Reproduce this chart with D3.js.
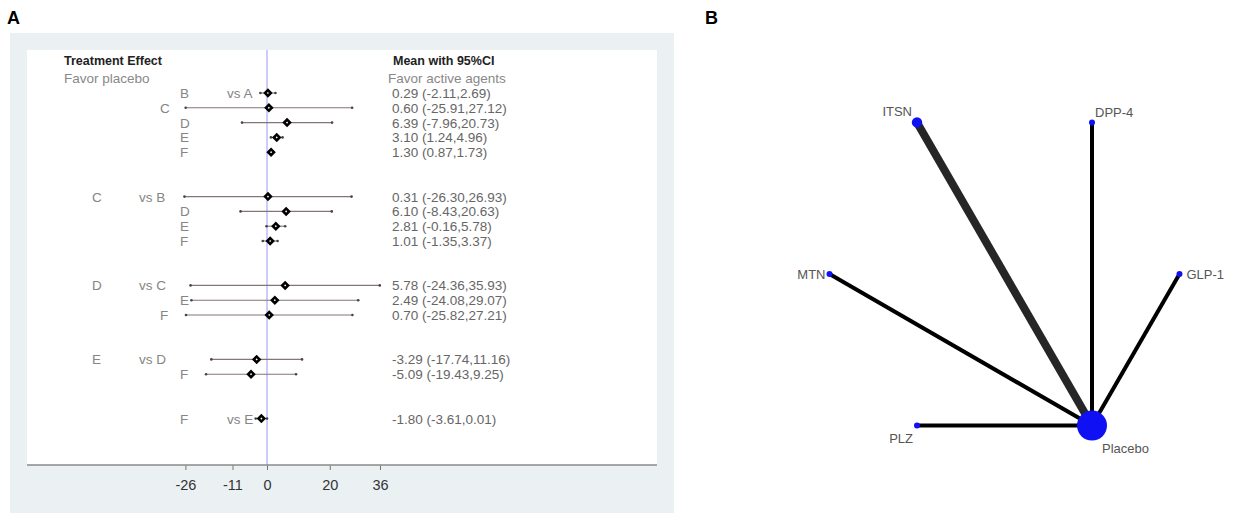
<!DOCTYPE html>
<html>
<head>
<meta charset="utf-8">
<script src="https://cdn.jsdelivr.net/npm/d3@7"></script>
<style>
  body { margin: 0; background: #fff; }
  svg { display: block; font-family: "Liberation Sans", Arial, sans-serif; }
</style>
</head>
<body>
<div id="vis"></div>
<script>
// Panel A data (forest plot)
const TREATMENTS = ["B", "C", "D", "E", "F", "C", "D", "E", "F", "D", "E", "F", "E", "F", "F"];
const COMPARATORS = ["A", "A", "A", "A", "A", "B", "B", "B", "B", "C", "C", "C", "D", "D", "E"];
const MEANS = [0.29, 0.60, 6.39, 3.10, 1.30, 0.31, 6.10, 2.81, 1.01, 5.78, 2.49, 0.70, -3.29, -5.09, -1.80];
const LOWER = [-2.11, -25.91, -7.96, 1.24, 0.87, -26.30, -8.43, -0.16, -1.35, -24.36, -24.08, -25.82, -17.74, -19.43, -3.61];
const UPPER = [2.69, 27.12, 20.73, 4.96, 1.73, 26.93, 20.63, 5.78, 3.37, 35.93, 29.07, 27.21, 11.16, 9.25, 0.01];
const X_TICKS = [-26, -11, 0, 20, 36];

// Panel B data (network)
const NODES = ["Placebo", "PLZ", "MTN", "ITSN", "DPP-4", "GLP-1"];
const NODE_WEIGHT = [25, 1, 1, 3, 1, 1];
const EDGE_FROM = ["Placebo", "Placebo", "Placebo", "Placebo", "Placebo"];
const EDGE_TO = ["PLZ", "MTN", "ITSN", "DPP-4", "GLP-1"];
const EDGE_STUDIES = [1, 1, 2, 1, 1];

// Layout
const FRAME_WIDTH = 1248;
const FRAME_HEIGHT = 525;
const BOX = { x: 10, y: 33, w: 664, h: 480 };
const INNER = { x: 27, y: 50, w: 630, h: 415 };
// column of the treatment letter in each row (0 = group head, 1 = odd indent, 2 = normal)
const LETTER_COL = [2, 1, 2, 2, 2, 0, 2, 2, 2, 0, 2, 1, 0, 2, 2];
const COL_X = [92, 160, 180];

const FRAME = d3.select("#vis")
    .append("svg")
    .attr("width", FRAME_WIDTH)
    .attr("height", FRAME_HEIGHT);

// panel letters
FRAME.append("text").attr("x", 7).attr("y", 24).text("A")
    .attr("font-size", "18px").attr("font-weight", "bold");
FRAME.append("text").attr("x", 705).attr("y", 24).text("B")
    .attr("font-size", "18px").attr("font-weight", "bold");

function build_panelA() {
    const g = FRAME.append("g");

    g.append("rect").attr("x", BOX.x).attr("y", BOX.y)
        .attr("width", BOX.w).attr("height", BOX.h).attr("fill", "#ebf1f3");
    g.append("rect").attr("x", INNER.x).attr("y", INNER.y)
        .attr("width", INNER.w).attr("height", INNER.h).attr("fill", "#fff");

    // row slots: 2 blank rows between comparator groups
    let slot = 0;
    const slots = TREATMENTS.map((t, i) => {
        if (i > 0) slot += (COMPARATORS[i] !== COMPARATORS[i - 1]) ? 3 : 1;
        return slot;
    });

    const X_SCALE = d3.scaleLinear().domain([-26, 36]).range([185.4, 380]);
    const Y_SCALE = d3.scaleLinear().domain([0, 22]).range([93, 418.6]);

    // reference line at zero
    g.append("line")
        .attr("x1", X_SCALE(0)).attr("x2", X_SCALE(0))
        .attr("y1", INNER.y).attr("y2", INNER.y + INNER.h)
        .attr("stroke", "#9a9af5").attr("stroke-width", 1);

    // axis
    const axis = g.append("g")
        .attr("transform", "translate(0," + (INNER.y + INNER.h) + ")")
        .call(d3.axisBottom(X_SCALE).tickValues(X_TICKS).tickSize(5).tickSizeOuter(0)
            .tickFormat((d) => String(d)));
    axis.select(".domain").remove();
    axis.selectAll(".tick line").attr("stroke", "#777");
    axis.selectAll(".tick text").attr("y", 15).attr("fill", "#333")
        .attr("font-size", "14.5px").attr("font-family", "Liberation Sans, Arial, sans-serif");
    g.append("line")
        .attr("x1", INNER.x).attr("x2", INNER.x + INNER.w)
        .attr("y1", INNER.y + INNER.h).attr("y2", INNER.y + INNER.h)
        .attr("stroke", "#8a8a8a").attr("stroke-width", 1.6);

    // headers
    g.append("text").attr("x", 64).attr("y", Y_SCALE(-2) + 2).text("Treatment Effect")
        .attr("font-size", "12.5px").attr("font-weight", "bold").attr("fill", "#222");
    g.append("text").attr("x", 64).attr("y", Y_SCALE(-1) + 5).text("Favor placebo")
        .attr("font-size", "13.5px").attr("fill", "#888");
    g.append("text").attr("x", 393).attr("y", Y_SCALE(-2) + 2).text("Mean with 95%CI")
        .attr("font-size", "12.5px").attr("font-weight", "bold").attr("fill", "#222");
    g.append("text").attr("x", 388).attr("y", Y_SCALE(-1) + 5).text("Favor active agents")
        .attr("font-size", "13.5px").attr("fill", "#888");

    const rows = g.selectAll(".row")
        .data(TREATMENTS.map((t, i) => i))
        .enter()
        .append("g")
        .attr("class", "row")
        .attr("transform", (i) => "translate(0," + Y_SCALE(slots[i]) + ")");

    // treatment labels
    rows.append("text")
        .attr("x", (i) => COL_X[LETTER_COL[i]])
        .attr("y", 5)
        .attr("font-size", "13.5px").attr("fill", "#858585")
        .text((i) => TREATMENTS[i]);
    rows.filter((i) => i === 0 || COMPARATORS[i] !== COMPARATORS[i - 1])
        .append("text")
        .attr("x", (i) => COL_X[LETTER_COL[i]] + 47)
        .attr("y", 5)
        .attr("font-size", "13.5px").attr("fill", "#858585")
        .text((i) => "vs " + COMPARATORS[i]);

    // CI lines
    rows.append("line")
        .attr("x1", (i) => X_SCALE(LOWER[i])).attr("x2", (i) => X_SCALE(UPPER[i]))
        .attr("y1", 0).attr("y2", 0)
        .attr("stroke", "#857575").attr("stroke-width", 1.1);
    rows.append("circle").attr("cx", (i) => X_SCALE(LOWER[i])).attr("cy", 0)
        .attr("r", 1.3).attr("fill", "#444");
    rows.append("circle").attr("cx", (i) => X_SCALE(UPPER[i])).attr("cy", 0)
        .attr("r", 1.3).attr("fill", "#444");

    // point estimates
    rows.append("path")
        .attr("d", d3.symbol().type(d3.symbolSquare).size(17))
        .attr("transform", (i) => "translate(" + X_SCALE(MEANS[i]) + ",0) rotate(45)")
        .attr("fill", "#fff").attr("stroke", "#000").attr("stroke-width", 2.6);

    // value text
    rows.append("text")
        .attr("x", 392).attr("y", 5)
        .attr("font-size", "13.5px").attr("fill", "#666")
        .text((i) => MEANS[i].toFixed(2) + " (" + LOWER[i].toFixed(2) + "," + UPPER[i].toFixed(2) + ")");
}

function build_panelB() {
    const g = FRAME.append("g");
    const CX = 1004.5, CY = 274, R = 175;

    // nodes evenly spaced around a circle, starting at bottom-right
    const ANGLE = d3.scaleLinear().domain([0, NODES.length]).range([60, 420]);
    const pos = {};
    NODES.forEach((n, i) => {
        const a = ANGLE(i) * Math.PI / 180;
        pos[n] = { x: CX + R * Math.cos(a), y: CY + R * Math.sin(a) };
    });

    const WIDTH = d3.scaleLinear().domain([1, 2]).range([4, 8]);
    const RADIUS = d3.scaleSqrt().domain([0, 25]).range([0, 15]);

    g.selectAll(".edge")
        .data(EDGE_TO.map((t, i) => i))
        .enter()
        .append("line")
        .attr("class", "edge")
        .attr("x1", (i) => pos[EDGE_FROM[i]].x).attr("y1", (i) => pos[EDGE_FROM[i]].y)
        .attr("x2", (i) => pos[EDGE_TO[i]].x).attr("y2", (i) => pos[EDGE_TO[i]].y)
        .attr("stroke", (i) => EDGE_STUDIES[i] > 1 ? "#262626" : "#000")
        .attr("stroke-width", (i) => WIDTH(EDGE_STUDIES[i]));

    g.selectAll(".node")
        .data(NODES)
        .enter()
        .append("circle")
        .attr("class", "node")
        .attr("cx", (n) => pos[n].x).attr("cy", (n) => pos[n].y)
        .attr("r", (n, i) => RADIUS(NODE_WEIGHT[i]))
        .attr("fill", "#1010f5");

    // label placement per node
    const LABEL_POS = {
        "Placebo": { anchor: "start", dx: 10, dy: 27 },
        "PLZ": { anchor: "end", dx: -4, dy: 17 },
        "MTN": { anchor: "end", dx: -4, dy: 4.5 },
        "ITSN": { anchor: "end", dx: -5, dy: -6.5 },
        "DPP-4": { anchor: "start", dx: 3, dy: -5.5 },
        "GLP-1": { anchor: "start", dx: 7, dy: 4.5 }
    };
    g.selectAll(".label")
        .data(NODES)
        .enter()
        .append("text")
        .attr("class", "label")
        .attr("x", (n) => pos[n].x + LABEL_POS[n].dx)
        .attr("y", (n) => pos[n].y + LABEL_POS[n].dy)
        .attr("text-anchor", (n) => LABEL_POS[n].anchor)
        .attr("font-size", "13px").attr("fill", "#555")
        .text((n) => n);
}

build_panelA();
build_panelB();
</script>
</body>
</html>
